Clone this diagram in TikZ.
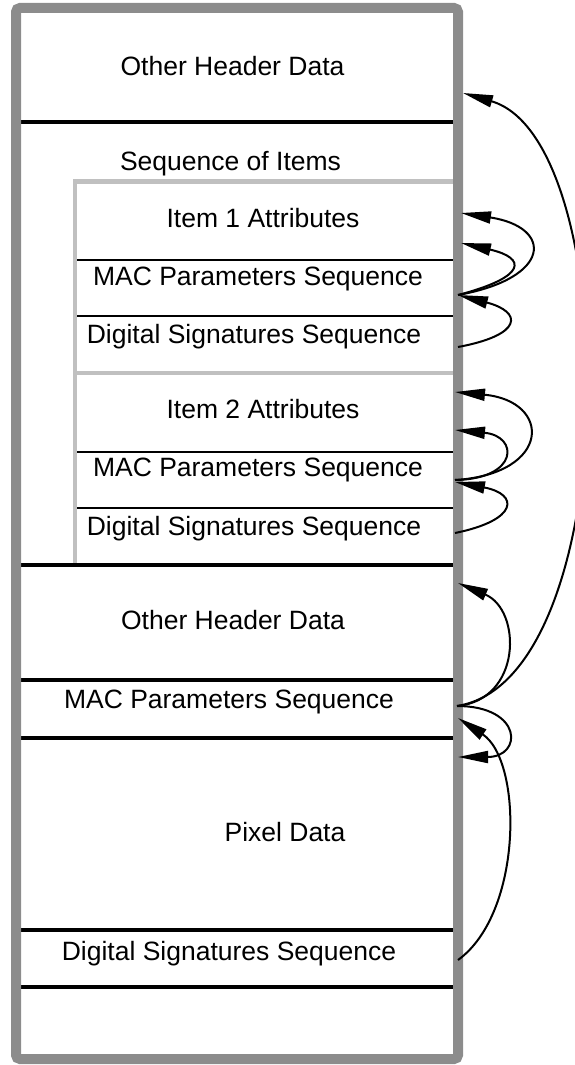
\documentclass[tikz,border=0pt]{standalone}
\usepackage{fontspec}
\setmainfont{Liberation Sans}
\usetikzlibrary{arrows.meta}
\definecolor{framegray}{HTML}{8C8C8C}
\definecolor{innergray}{HTML}{C0C0C0}
\begin{document}
\begin{tikzpicture}[x=1pt,y=-1pt,
  lbl/.style={inner sep=0pt,anchor=base,font=\fontsize{26.5}{30}\selectfont},
  thickrule/.style={line width=4.5pt,black},
  thinrule/.style={line width=2pt,black},
  graybox/.style={line width=4.5pt,draw=innergray},
  link/.style={line width=2pt,black,-{Triangle[length=30pt,width=12pt]}}]
\useasboundingbox (0,0) rectangle (574,1065);
% inner sequence box
\draw[graybox] (75,565) -- (75,181.5) -- (456,181.5);
\draw[graybox] (77,373) -- (456,373);
% thin rules
\draw[thinrule] (77,260) -- (455,260);
\draw[thinrule] (77,316) -- (455,316);
\draw[thinrule] (77,452) -- (455,452);
\draw[thinrule] (77,508) -- (455,508);
% thick rules
\foreach \yy in {122,565,680,738,930,987}
  \draw[thickrule] (18,\yy) -- (456,\yy);
% outer frame
\draw[line width=10pt,draw=framegray,rounded corners=4pt] (16,8) rectangle (458,1059);
% labels
\node[lbl] (ohd1) at (232.5,75) {Other Header Data};
\node[lbl] (soi) at (230.5,170) {Sequence of Items};
\node[lbl] (i1a) at (263,227) {Item 1 Attributes};
\node[lbl] (mac1) at (258,285) {MAC Parameters Sequence};
\node[lbl] (dss1) at (254,343) {Digital Signatures Sequence};
\node[lbl] (i2a) at (263,418) {Item 2 Attributes};
\node[lbl] (mac2) at (258,476) {MAC Parameters Sequence};
\node[lbl] (dss2) at (254,535) {Digital Signatures Sequence};
\node[lbl] (ohd2) at (233,629) {Other Header Data};
\node[lbl] (mac3) at (229,708) {MAC Parameters Sequence};
\node[lbl] (pix) at (285,841) {Pixel Data};
\node[lbl] (dss3) at (229,960) {Digital Signatures Sequence};
% connector end points on the right edge
\coordinate (ohd1e) at (463,93);
\coordinate (i1ae) at (461,213);
\coordinate (i1be) at (461,243);
\coordinate (mac1e) at (458,295);
\coordinate (dss1e) at (458,347);
\coordinate (i2ae) at (455,392);
\coordinate (i2be) at (455,430);
\coordinate (mac2s) at (455,480);
\coordinate (mac2e) at (455,482);
\coordinate (dss2e) at (455,533);
\coordinate (ohd2e) at (458,583);
\coordinate (mac3s) at (457,706);
\coordinate (mac3e) at (458,718);
\coordinate (pixe) at (458,757);
\coordinate (dss3e) at (458,960);
% connectors
\draw[link] (mac3s) .. controls (625,680) and (625,140) .. (ohd1e);
\draw[link] (mac1e) .. controls (553,278) and (553,227) .. (i1ae);
\draw[link] (mac1e) .. controls (527,277) and (527,258) .. (i1be);
\draw[link] (dss1e) .. controls (523,335) and (523,312) .. (mac1e);
\draw[link] (mac2s) .. controls (552,474) and (552,401) .. (i2ae);
\draw[link] (mac2s) .. controls (519,479) and (519,436) .. (i2be);
\draw[link] (dss2e) .. controls (519,520) and (519,494) .. (mac2e);
\draw[link] (mac3s) .. controls (522,700) and (522,610) .. (ohd2e);
\draw[link] (mac3s) .. controls (523,706) and (523,757) .. (pixe);
\draw[link] (dss3e) .. controls (523,913) and (523,761) .. (mac3e);
\end{tikzpicture}
\end{document}
